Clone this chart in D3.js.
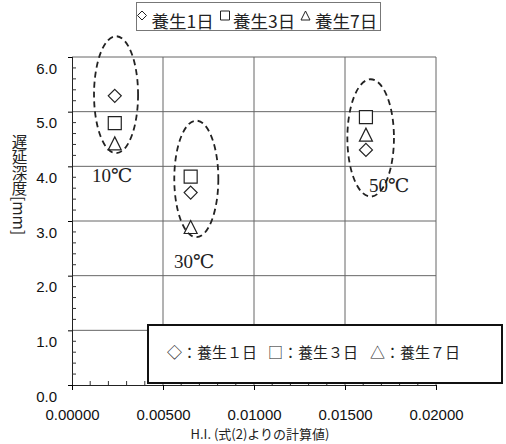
<!DOCTYPE html>
<html>
<head>
<meta charset="utf-8">
<script src="https://cdn.jsdelivr.net/npm/d3@7"></script>
<style>
  body { margin: 0; background: #fff; }
</style>
</head>
<body>
<div class="chart"></div>
<script>
var svgWidth = 506;
var svgHeight = 444;

// chart values
var temps = ["10℃", "30℃", "50℃"];
var hiValues = [0.00235, 0.00652, 0.01615];
var day1 = [5.29, 3.52, 4.30];
var day3 = [4.79, 3.81, 4.90];
var day7 = [4.42, 2.89, 4.58];
var xTicks = [0, 0.005, 0.01, 0.015, 0.02];
var yTicks = [0, 1, 2, 3, 4, 5, 6];
var seriesNames = ["養生1日", "養生3日", "養生7日"];
var legendNames = ["養生１日", "養生３日", "養生７日"];

// dashed ellipses around each temperature group (data units)
var ringX = [0.00242, 0.00683, 0.01641];
var ringY = [5.31, 3.77, 4.52];
var ringRx = [0.00121, 0.00121, 0.00128];
var ringRy = [1.07, 1.066, 1.073];
// temperature label anchors (data units)
var labelX = [0.0011, 0.0056, 0.01632];
var labelY = [3.71, 2.14, 3.53];

var plot = { left: 72, right: 436, top: 57, bottom: 385 };

var svg = d3.select(".chart")
  .append("svg")
  .attr("width", svgWidth)
  .attr("height", svgHeight);

var x = d3.scaleLinear().domain([0, 0.02]).range([plot.left, plot.right]);
var y = d3.scaleLinear().domain([0, 6]).range([plot.bottom, plot.top]);

var sans = "'Liberation Sans', Arial, sans-serif";
var cjk = "'Noto Sans CJK JP', sans-serif";
var serif = "'Liberation Serif', 'DejaVu Serif', serif";

// gridlines
svg.append("g")
  .selectAll("line")
  .data(yTicks.slice(1))
  .enter()
  .append("line")
  .attr("x1", plot.left).attr("x2", plot.right)
  .attr("y1", d => y(d)).attr("y2", d => y(d))
  .attr("stroke", "#666").attr("stroke-width", 1);

svg.append("g")
  .selectAll("line")
  .data(xTicks.slice(1))
  .enter()
  .append("line")
  .attr("x1", d => x(d)).attr("x2", d => x(d))
  .attr("y1", plot.top).attr("y2", plot.bottom)
  .attr("stroke", "#666").attr("stroke-width", 1);

// axes
var bottomAxis = d3.axisBottom(x).tickValues(xTicks).tickSize(5).tickFormat(d3.format(".5f"));
var leftAxis = d3.axisLeft(y).tickValues(yTicks).tickSize(4).tickFormat(d3.format(".1f"));

var gx = svg.append("g")
  .attr("transform", `translate(0, ${plot.bottom})`)
  .call(bottomAxis);
gx.select(".domain").attr("d", `M${plot.left},0.5H${plot.right}`).attr("stroke", "#222");
gx.selectAll("text")
  .attr("font-family", sans).attr("font-size", 15).attr("fill", "#111")
  .attr("y", 35).attr("dy", "0");

var gy = svg.append("g")
  .attr("transform", `translate(${plot.left}, 0)`)
  .call(leftAxis);
gy.select(".domain").attr("d", `M0.5,${plot.top}V${plot.bottom}`).attr("stroke", "#222");
gy.selectAll("text")
  .attr("font-family", sans).attr("font-size", 15).attr("fill", "#111")
  .attr("x", -15).attr("dy", "16");

// minor ticks (inside)
var xMinor = d3.range(1, 20).map(i => i * 0.001).filter(v => Math.round(v * 1000) % 5 !== 0);
svg.append("g")
  .selectAll("line")
  .data(xMinor)
  .enter()
  .append("line")
  .attr("x1", d => x(d)).attr("x2", d => x(d))
  .attr("y1", plot.bottom).attr("y2", plot.bottom - 4)
  .attr("stroke", "#333");

var yMinor = d3.range(1, 30).map(i => i * 0.2).filter(v => Math.abs(v - Math.round(v)) > 0.01);
svg.append("g")
  .selectAll("line")
  .data(yMinor)
  .enter()
  .append("line")
  .attr("x1", plot.left).attr("x2", plot.left + 4)
  .attr("y1", d => y(d)).attr("y2", d => y(d))
  .attr("stroke", "#333");

// y axis title, vertical writing
svg.append("text")
  .attr("x", 19.5).attr("y", 134)
  .attr("font-family", cjk).attr("font-size", 15.5).attr("fill", "#222")
  .style("writing-mode", "vertical-rl")
  .style("text-orientation", "mixed")
  .text("遅延深度[mm]");

svg.append("text")
  .attr("x", 260).attr("y", 439)
  .attr("text-anchor", "middle")
  .attr("font-family", cjk).attr("font-size", 13).attr("fill", "#222")
  .text("H.I. (式(2)よりの計算値)");

// marker shapes
function diamond(cx, cy, s) {
  return `M${cx},${cy - s}L${cx + s},${cy}L${cx},${cy + s}L${cx - s},${cy}Z`;
}
function square(cx, cy, s) {
  return `M${cx - s},${cy - s}H${cx + s}V${cy + s}H${cx - s}Z`;
}
function triangle(cx, cy, s) {
  return `M${cx},${cy - s}L${cx + s},${cy + s}H${cx - s}Z`;
}

var series = [
  { values: day1, shape: diamond, size: 6.5 },
  { values: day3, shape: square, size: 6.5 },
  { values: day7, shape: triangle, size: 6.5 }
];

var markers = svg.append("g");
series.forEach(function(s) {
  markers.selectAll(null)
    .data(s.values)
    .enter()
    .append("path")
    .attr("d", (d, i) => s.shape(x(hiValues[i]), y(d), s.size))
    .attr("fill", "#fff")
    .attr("stroke", "#222")
    .attr("stroke-width", 1.2);
});

// dashed ellipses
svg.append("g")
  .selectAll("ellipse")
  .data(temps)
  .enter()
  .append("ellipse")
  .attr("cx", (d, i) => x(ringX[i]))
  .attr("cy", (d, i) => y(ringY[i]))
  .attr("rx", (d, i) => x(ringRx[i]) - x(0))
  .attr("ry", (d, i) => y(0) - y(ringRy[i]))
  .attr("fill", "none")
  .attr("stroke", "#222")
  .attr("stroke-width", 1.8)
  .attr("stroke-dasharray", "6,4");

// temperature labels
svg.append("g")
  .selectAll("text")
  .data(temps)
  .enter()
  .append("text")
  .attr("x", (d, i) => x(labelX[i]))
  .attr("y", (d, i) => y(labelY[i]))
  .attr("font-family", serif)
  .attr("font-size", 19)
  .attr("fill", "#222")
  .text(d => d);

// top legend
svg.append("rect")
  .attr("x", 136.5).attr("y", 2.5)
  .attr("width", 244).attr("height", 28)
  .attr("fill", "#fff").attr("stroke", "#777");

var topSym = [
  { shape: diamond, x: 142 },
  { shape: square, x: 225 },
  { shape: triangle, x: 305.5 }
];
var topTextX = [151.5, 233, 315];
topSym.forEach(function(t, i) {
  svg.append("path")
    .attr("d", t.shape(t.x, 15.5, 4.5))
    .attr("fill", "#fff").attr("stroke", "#222").attr("stroke-width", 1);
  svg.append("text")
    .attr("x", topTextX[i]).attr("y", 28)
    .attr("font-family", cjk).attr("font-size", 17.5).attr("fill", "#222")
    .text(seriesNames[i]);
});

// bottom legend
svg.append("rect")
  .attr("x", 148).attr("y", 325)
  .attr("width", 354).attr("height", 58)
  .attr("fill", "#fff").attr("stroke", "#111").attr("stroke-width", 2);

var legSym = ["◇", "□", "△"];
var legX = [167, 268, 370];
legendNames.forEach(function(name, i) {
  svg.append("text")
    .attr("x", legX[i]).attr("y", 358)
    .attr("font-family", cjk).attr("font-size", 15).attr("fill", "#222")
    .text(legSym[i] + "：" + name);
});
</script>
</body>
</html>
